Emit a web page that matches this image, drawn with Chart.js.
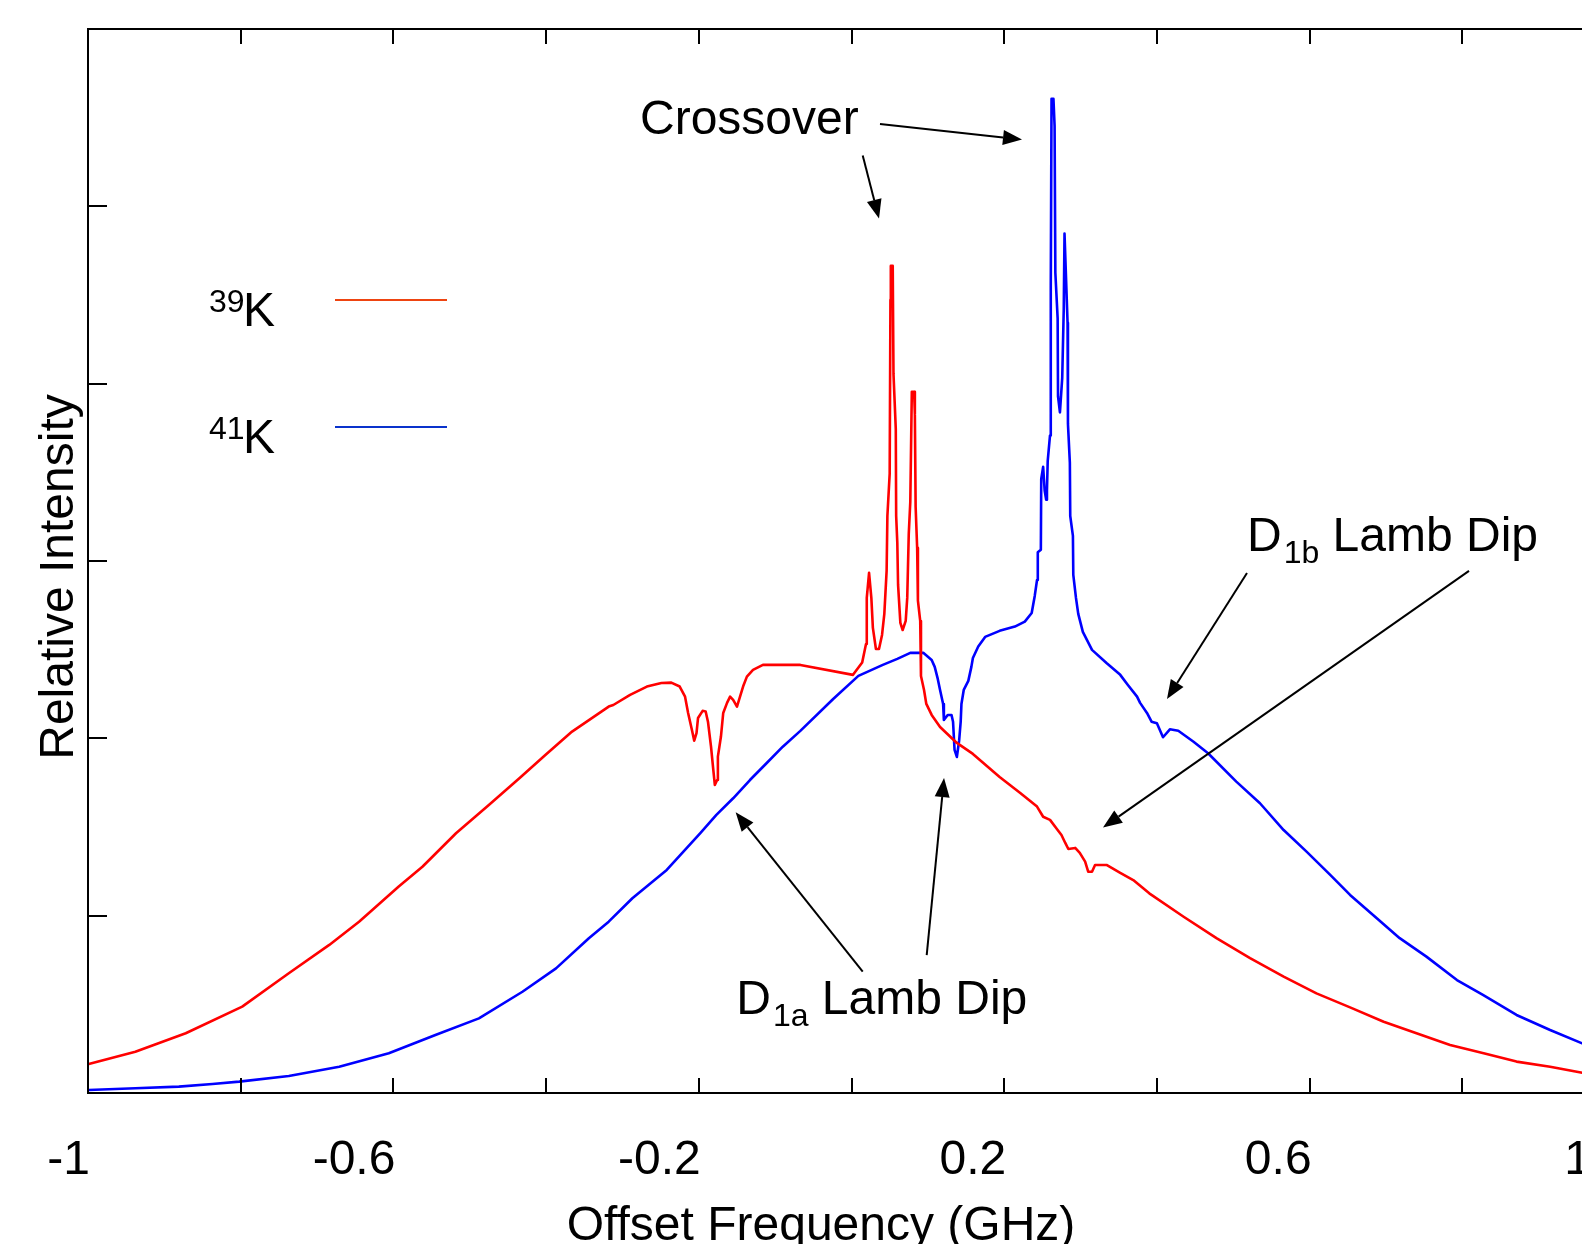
<!DOCTYPE html>
<html>
<head>
<meta charset="utf-8">
<script src="https://cdn.jsdelivr.net/npm/chart.js@4.4.1/dist/chart.umd.min.js"></script>
<style>
html,body{margin:0;padding:0;background:#fff;overflow:hidden;width:1582px;height:1244px;}
#wrap{position:absolute;left:0;top:0;width:1660px;height:1300px;}
</style>
</head>
<body>
<div id="wrap"><canvas id="c" width="1660" height="1300"></canvas></div>
<script>
// ---- Data (offset frequency in GHz, relative intensity in arbitrary units) ----
const seriesNames = ['39K', '41K'];
const seriesSup = ['39', '41'];

const freq39 = [-0.999,-0.938,-0.872,-0.798,-0.737,-0.684,-0.645,-0.593,-0.562,-0.518,
  -0.475,-0.435,-0.401,-0.366,-0.318,-0.312,-0.290,-0.268,-0.249,-0.236,
  -0.225,-0.218,-0.214,-0.209,-0.206,-0.203,-0.201,-0.195,-0.191,-0.188,
  -0.184,-0.181,-0.179,-0.176,-0.175,-0.171,-0.168,-0.163,-0.159,-0.155,
  -0.150,-0.146,-0.142,-0.137,-0.129,-0.116,-0.067,0.002,0.014,0.019,
  0.020,0.023,0.026,0.028,0.032,0.036,0.040,0.043,0.046,0.047,
  0.050,0.051,0.0515,0.054,0.055,0.058,0.0585,0.060,0.061,0.064,
  0.067,0.071,0.073,0.075,0.077,0.079,0.082,0.083,0.084,0.086,
  0.087,0.090,0.091,0.095,0.098,0.105,0.116,0.138,0.159,0.194,
  0.221,0.243,0.251,0.260,0.270,0.275,0.280,0.284,0.293,0.299,
  0.306,0.310,0.315,0.319,0.334,0.352,0.369,0.390,0.435,0.478,
  0.522,0.566,0.609,0.653,0.697,0.740,0.784,0.828,0.871,0.915,
  0.957,1.000];
const int39 = [0.164,0.233,0.337,0.487,0.675,0.835,0.966,1.164,1.276,1.465,
  1.624,1.775,1.906,2.038,2.179,2.188,2.245,2.292,2.312,2.314,
  2.292,2.235,2.143,2.047,1.987,2.030,2.115,2.155,2.151,2.094,
  1.953,1.822,1.737,1.765,1.897,2.010,2.143,2.200,2.235,2.217,
  2.179,2.235,2.292,2.348,2.386,2.414,2.414,2.358,2.428,2.532,
  2.792,2.933,2.792,2.623,2.504,2.504,2.583,2.702,2.944,3.254,
  3.491,4.473,4.664,4.664,4.055,3.745,3.254,3.102,2.865,2.651,
  2.611,2.662,2.792,3.153,3.333,3.954,3.954,3.824,3.305,3.074,
  2.777,2.662,2.352,2.273,2.194,2.132,2.064,1.974,1.912,1.782,
  1.692,1.615,1.558,1.540,1.483,1.455,1.410,1.376,1.382,1.354,
  1.305,1.248,1.248,1.286,1.286,1.241,1.201,1.126,0.994,0.873,
  0.760,0.656,0.562,0.483,0.402,0.337,0.271,0.224,0.177,0.148,
  0.114,0.090];

const freq41 = [-0.999,-0.938,-0.881,-0.837,-0.802,-0.737,-0.671,-0.606,-0.545,-0.488,
  -0.431,-0.387,-0.344,-0.318,-0.287,-0.242,-0.198,-0.177,-0.155,-0.133,
  -0.111,-0.090,-0.067,-0.024,0.009,0.041,0.060,0.077,0.094,0.105,
  0.109,0.113,0.116,0.120,0.121,0.126,0.131,0.133,0.135,0.138,
  0.141,0.143,0.144,0.147,0.153,0.157,0.159,0.166,0.175,0.194,
  0.214,0.227,0.236,0.240,0.243,0.244,0.248,0.2485,0.251,0.253,
  0.255,0.256,0.257,0.260,0.261,0.262,0.2645,0.266,0.267,0.270,
  0.2705,0.273,0.276,0.278,0.279,0.283,0.2835,0.286,0.2865,0.290,
  0.2905,0.294,0.297,0.303,0.315,0.334,0.352,0.362,0.374,0.378,
  0.387,0.393,0.400,0.408,0.417,0.428,0.448,0.467,0.504,0.535,
  0.566,0.596,0.627,0.653,0.688,0.718,0.753,0.793,0.827,0.871,
  0.915,0.957,1.000];
const int41 = [0.017,0.027,0.036,0.051,0.064,0.096,0.148,0.224,0.327,0.421,
  0.571,0.703,0.873,0.966,1.098,1.258,1.465,1.568,1.662,1.765,
  1.861,1.953,2.042,2.222,2.352,2.414,2.448,2.482,2.482,2.442,
  2.403,2.335,2.273,2.194,2.104,2.132,2.132,2.093,1.935,1.895,
  1.988,2.093,2.194,2.273,2.324,2.403,2.453,2.518,2.572,2.606,
  2.630,2.658,2.707,2.803,2.893,3.049,3.063,3.463,3.531,3.398,
  3.345,3.398,3.565,3.708,4.552,5.606,5.606,5.454,4.625,4.368,
  3.928,3.838,4.033,4.422,4.847,4.343,3.773,3.553,3.254,3.142,
  2.922,2.792,2.702,2.600,2.499,2.425,2.358,2.301,2.235,2.200,
  2.143,2.094,2.085,2.006,2.051,2.043,1.981,1.916,1.756,1.634,
  1.483,1.361,1.230,1.117,0.985,0.873,0.769,0.637,0.553,0.440,
  0.355,0.280,0.210];

const xTickValues = [-1,-0.8,-0.6,-0.4,-0.2,0,0.2,0.4,0.6,0.8,1];
const xLabelValues = [-1,-0.6,-0.2,0.2,0.6,1];
const xTickLabels = ['-1','-0.6','-0.2','0.2','0.6','1'];
const yTickValues = [1,2,3,4,5];
const xTitle = 'Offset Frequency (GHz)';
const yTitle = 'Relative Intensity';

// annotation arrows: tails and tips in data units
const arrowTails = [[0.0373,5.464],[0.0147,5.286],[0.518,2.932],[0.8088,2.944],[0.0147,0.684],[0.0985,0.778]];
const arrowTips  = [[0.2233,5.377],[0.036,4.931],[0.4132,2.222],[0.3294,1.497],[-0.1517,1.583],[0.1212,1.776]];
// annotation labels: main text, subscript, rest, anchor (data units)
const noteMain = ['Crossover','D','D'];
const noteSub  = ['','1b','1a'];
const noteRest = ['',' Lamb Dip',' Lamb Dip'];
const noteAnchor = [[-0.277,5.408],[0.518,3.056],[-0.151,0.4455]];

// ---- Styling ----
const FONT = '"Liberation Sans", Arial, Helvetica, sans-serif';
const W = 1660, H = 1300;
const AREA = {left:88, top:29, right:1615, bottom:1093};

const decor = {
  id:'decor',
  afterDraw(chart){
    const ctx = chart.ctx;
    const xs = chart.scales.x, ys = chart.scales.y;
    const ca = chart.chartArea;
    ctx.save();
    ctx.strokeStyle = '#000';
    ctx.fillStyle = '#000';
    ctx.lineWidth = 2;
    // frame
    ctx.strokeRect(ca.left, ca.top, ca.right - ca.left, ca.bottom - ca.top);
    // ticks pointing inward
    ctx.beginPath();
    xTickValues.forEach(v => {
      const px = Math.round(xs.getPixelForValue(v));
      ctx.moveTo(px, ca.bottom); ctx.lineTo(px, ca.bottom - 15);
      ctx.moveTo(px, ca.top); ctx.lineTo(px, ca.top + 15);
    });
    yTickValues.forEach(v => {
      const py = Math.round(ys.getPixelForValue(v));
      ctx.moveTo(ca.left, py); ctx.lineTo(ca.left + 19, py);
    });
    ctx.stroke();
    // x tick labels (right-aligned to tick)
    ctx.font = '48px ' + FONT;
    ctx.textAlign = 'right';
    ctx.textBaseline = 'alphabetic';
    const visW = window.innerWidth || 1582;
    xLabelValues.forEach((v, i) => {
      const px = Math.min(xs.getPixelForValue(v) + 2, visW + 9);
      ctx.fillText(xTickLabels[i], px, ca.bottom + 81);
    });
    // axis titles
    ctx.textAlign = 'center';
    ctx.fillText(xTitle, ca.left + 733, ca.bottom + 147);
    ctx.save();
    ctx.translate(ca.left - 15, (ca.top + ca.bottom) / 2 + 16);
    ctx.rotate(-Math.PI / 2);
    ctx.fillText(yTitle, 0, 0);
    ctx.restore();

    // legend
    const legColors = ['#ee4411', '#0a33cc'];
    const legY = [326, 453];
    seriesNames.forEach((name, i) => {
      ctx.textAlign = 'left';
      ctx.font = '32px ' + FONT;
      ctx.fillStyle = '#000';
      ctx.fillText(seriesSup[i], 209, legY[i] - 14);
      ctx.font = '48px ' + FONT;
      ctx.fillText(name.replace(seriesSup[i], ''), 243, legY[i]);
      ctx.strokeStyle = legColors[i];
      ctx.lineWidth = 2;
      ctx.beginPath();
      ctx.moveTo(335, legY[i] - 26); ctx.lineTo(447, legY[i] - 26);
      ctx.stroke();
    });

    // annotation arrows
    ctx.strokeStyle = '#000';
    ctx.fillStyle = '#000';
    ctx.lineWidth = 2;
    arrowTails.forEach((t, i) => {
      const x1 = xs.getPixelForValue(t[0]), y1 = ys.getPixelForValue(t[1]);
      const x2 = xs.getPixelForValue(arrowTips[i][0]), y2 = ys.getPixelForValue(arrowTips[i][1]);
      const ang = Math.atan2(y2 - y1, x2 - x1);
      const hl = 19, hw = 7.5;
      const bx = x2 - hl * Math.cos(ang), by = y2 - hl * Math.sin(ang);
      ctx.beginPath();
      ctx.moveTo(x1, y1); ctx.lineTo(bx, by);
      ctx.stroke();
      ctx.beginPath();
      ctx.moveTo(x2, y2);
      ctx.lineTo(bx + hw * Math.sin(ang), by - hw * Math.cos(ang));
      ctx.lineTo(bx - hw * Math.sin(ang), by + hw * Math.cos(ang));
      ctx.closePath();
      ctx.fill();
    });

    // annotation labels
    ctx.textAlign = 'left';
    noteMain.forEach((m, i) => {
      let x = xs.getPixelForValue(noteAnchor[i][0]);
      const y = ys.getPixelForValue(noteAnchor[i][1]);
      ctx.font = '48px ' + FONT;
      ctx.fillText(m, x, y);
      x += ctx.measureText(m).width;
      if (noteSub[i]) {
        x += 2;
        ctx.font = '32px ' + FONT;
        ctx.fillText(noteSub[i], x, y + 12);
        x += ctx.measureText(noteSub[i]).width;
      }
      if (noteRest[i]) {
        ctx.font = '48px ' + FONT;
        ctx.fillText(noteRest[i], x, y);
      }
    });
    ctx.restore();
  }
};

const ctx = document.getElementById('c').getContext('2d');
new Chart(ctx, {
  type: 'line',
  data: {
    datasets: [
      {label: seriesNames[0], data: freq39.map((f, i) => ({x: f, y: int39[i]})),
       borderColor: '#ff0000', borderWidth: 2.6, pointRadius: 0, tension: 0, fill: false,
       borderJoinStyle: 'round'},
      {label: seriesNames[1], data: freq41.map((f, i) => ({x: f, y: int41[i]})),
       borderColor: '#0000ff', borderWidth: 2.6, pointRadius: 0, tension: 0, fill: false,
       borderJoinStyle: 'round'}
    ]
  },
  options: {
    responsive: false,
    devicePixelRatio: 1,
    animation: false,
    events: [],
    layout: {padding: {left: AREA.left, top: AREA.top, right: W - AREA.right, bottom: H - AREA.bottom}},
    plugins: {legend: {display: false}, tooltip: {enabled: false}, title: {display: false}},
    scales: {
      x: {type: 'linear', min: -1, max: 1, display: false},
      y: {type: 'linear', min: 0, max: 6, display: false}
    }
  },
  plugins: [decor]
});
</script>
</body>
</html>
